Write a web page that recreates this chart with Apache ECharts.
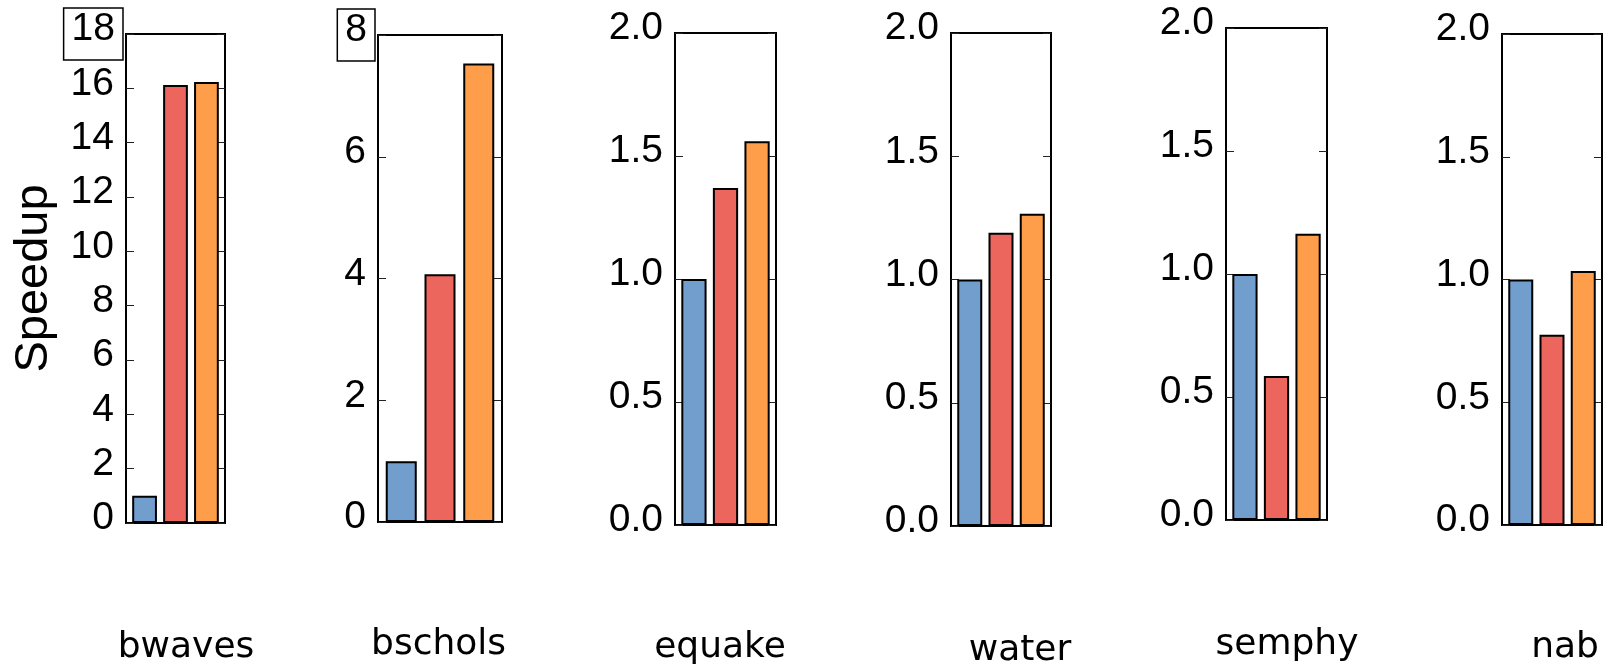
<!DOCTYPE html>
<html>
<head>
<meta charset="utf-8">
<script src="https://cdn.jsdelivr.net/npm/echarts@6/dist/echarts.min.js"></script>
<style>
html,body{margin:0;padding:0;background:#fff;}
#c{width:1605px;height:670px;}
</style>
</head>
<body>
<div id="c"></div>
<script>
// ---- data ----
var categories = ['bwaves', 'bschols', 'equake', 'water', 'semphy', 'nab'];
var seriesNames = ['Baseline', 'Variant A', 'Variant B'];
var baseline = [1.0, 1.0, 1.0, 1.0, 1.0, 1.0];
var variantA = [16.12, 4.07, 1.37, 1.19, 0.585, 0.775];
var variantB = [16.23, 7.53, 1.56, 1.267, 1.164, 1.035];
var yMax = [18, 8, 2, 2, 2, 2];
var yStep = [2, 2, 0.5, 0.5, 0.5, 0.5];
var yDecimals = [0, 0, 1, 1, 1, 1];

// ---- layout (pixels) ----
var panels = [
  {l: 126, r: 225, t: 34, b: 523, dx: 10.5},
  {l: 378, r: 502, t: 35, b: 522, dx: -1.4},
  {l: 675, r: 776, t: 33, b: 525, dx: -5.5},
  {l: 951, r: 1051, t: 33, b: 526, dx: 19},
  {l: 1226, r: 1327, t: 28, b: 520, dx: 10.5},
  {l: 1502, r: 1602, t: 34, b: 525, dx: 13}
];
var labelBaseline = [660, 657, 660, 663, 657, 660];
var colors = ['#729ECE', '#ED665D', '#FF9E4A'];
var values = [baseline, variantA, variantB];

var grids = [], xAxes = [], yAxes = [], series = [];
panels.forEach(function (p, i) {
  grids.push({
    left: p.l, top: p.t, width: p.r - p.l, height: p.b - p.t,
    show: true, borderColor: '#000', borderWidth: 2,
    backgroundColor: 'transparent',
    containLabel: false, outerBoundsMode: 'none'
  });
  var dx = p.dx;
  xAxes.push({
    type: 'category', gridIndex: i, data: [categories[i]],
    axisLine: {show: false}, axisTick: {show: false},
    axisLabel: {
      show: true, interval: 0, color: '#000',
      fontFamily: 'DejaVu Sans', fontSize: 36, lineHeight: 36,
      margin: labelBaseline[i] - 30.5 - p.b,
      padding: dx > 0 ? [0, 0, 0, 2 * dx] : [0, -2 * dx, 0, 0]
    }
  });
  var mx = yMax[i], dec = yDecimals[i];
  yAxes.push({
    type: 'value', gridIndex: i, min: 0, max: mx, interval: yStep[i],
    position: 'left',
    name: i === 0 ? 'Speedup' : '',
    nameLocation: 'middle', nameRotate: 90, nameGap: 68,
    nameTextStyle: {fontFamily: 'Liberation Sans', fontSize: 47, color: '#000'},
    axisLine: {show: false},
    splitLine: {show: false},
    axisTick: {show: true, inside: true, length: 8, lineStyle: {color: '#222', width: 1}},
    axisLabel: {
      show: true, margin: 3, showMinLabel: true, showMaxLabel: true,
      formatter: function (v) {
        var s = v.toFixed(dec);
        if (Math.abs(v - mx) < 1e-9 && (i === 0 || i === 1)) return '{box|' + s + '}';
        return '{n|' + s + '}';
      },
      rich: {
        box: {fontFamily: 'Liberation Sans', fontSize: 39, lineHeight: 40, color: '#000',
              borderColor: '#000', borderWidth: 1.5, padding: [2, 8, 11, 8]},
        n: {fontFamily: 'Liberation Sans', fontSize: 39, lineHeight: 40, color: '#000',
            padding: [2, 9, 11, 8]}
      }
    }
  });
  yAxes.push({
    type: 'value', gridIndex: i, min: 0, max: mx, interval: yStep[i],
    position: 'right',
    axisLine: {show: false}, splitLine: {show: false},
    axisTick: {show: true, inside: true, length: 8, lineStyle: {color: '#222', width: 1}},
    axisLabel: {show: false}
  });
  for (var k = 0; k < 3; k++) {
    series.push({
      type: 'bar', name: seriesNames[k],
      xAxisIndex: i, yAxisIndex: 2 * i,
      data: [values[k][i]],
      barWidth: '25%', barGap: '25%',
      itemStyle: {color: colors[k], borderColor: '#000', borderWidth: 2},
      emphasis: {disabled: true},
      animation: false
    });
  }
});

var chart = echarts.init(document.getElementById('c'), null, {renderer: 'canvas'});
chart.setOption({
  animation: false,
  backgroundColor: '#fff',
  grid: grids,
  xAxis: xAxes,
  yAxis: yAxes,
  series: series
});
</script>
</body>
</html>
